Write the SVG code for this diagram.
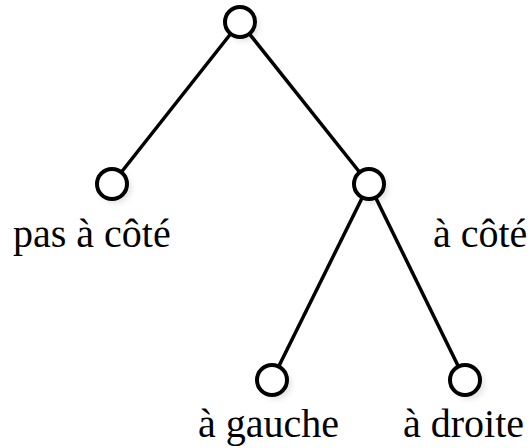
<svg xmlns="http://www.w3.org/2000/svg" width="531" height="448" viewBox="0 0 531 448">
  <style>
    .edge { stroke: #000; stroke-width: 3.5; fill: none; stroke-linecap: butt; }
    .node { fill: #fff; stroke: #000; stroke-width: 4; }
    .shade { fill: #000; opacity: 0.12; filter: url(#soft); }
    .label { font-family: "Liberation Serif", "Times New Roman", serif; font-size: 40px; fill: #000; }
  </style>
  <defs>
    <filter id="soft" x="-50%" y="-50%" width="200%" height="200%">
      <feGaussianBlur stdDeviation="3"/>
    </filter>
  </defs>
  <rect width="531" height="448" fill="#fff"/>

  <g id="connectors">
    <line class="edge" x1="240" y1="22" x2="112" y2="184"/>
    <line class="edge" x1="240" y1="22" x2="369" y2="184"/>
    <line class="edge" x1="369" y1="184" x2="272" y2="380"/>
    <line class="edge" x1="369" y1="184" x2="465" y2="380"/>
  </g>

  <g id="root">
    <circle class="shade" cx="244" cy="26" r="15"/>
    <circle class="node" cx="240" cy="22" r="15"/>
  </g>
  <g id="pas-a-cote">
    <circle class="shade" cx="116" cy="188" r="15"/>
    <circle class="node" cx="112" cy="184" r="15"/>
    <text class="label" x="13" y="247">pas à côté</text>
  </g>
  <g id="a-cote">
    <circle class="shade" cx="373" cy="188" r="15"/>
    <circle class="node" cx="369" cy="184" r="15"/>
    <text class="label" x="433" y="247">à côté</text>
  </g>
  <g id="a-gauche">
    <circle class="shade" cx="276" cy="384" r="15"/>
    <circle class="node" cx="272" cy="380" r="15"/>
    <text class="label" x="198" y="437">à gauche</text>
  </g>
  <g id="a-droite">
    <circle class="shade" cx="469" cy="384" r="15"/>
    <circle class="node" cx="465" cy="380" r="15"/>
    <text class="label" x="403" y="437">à droite</text>
  </g>
</svg>
